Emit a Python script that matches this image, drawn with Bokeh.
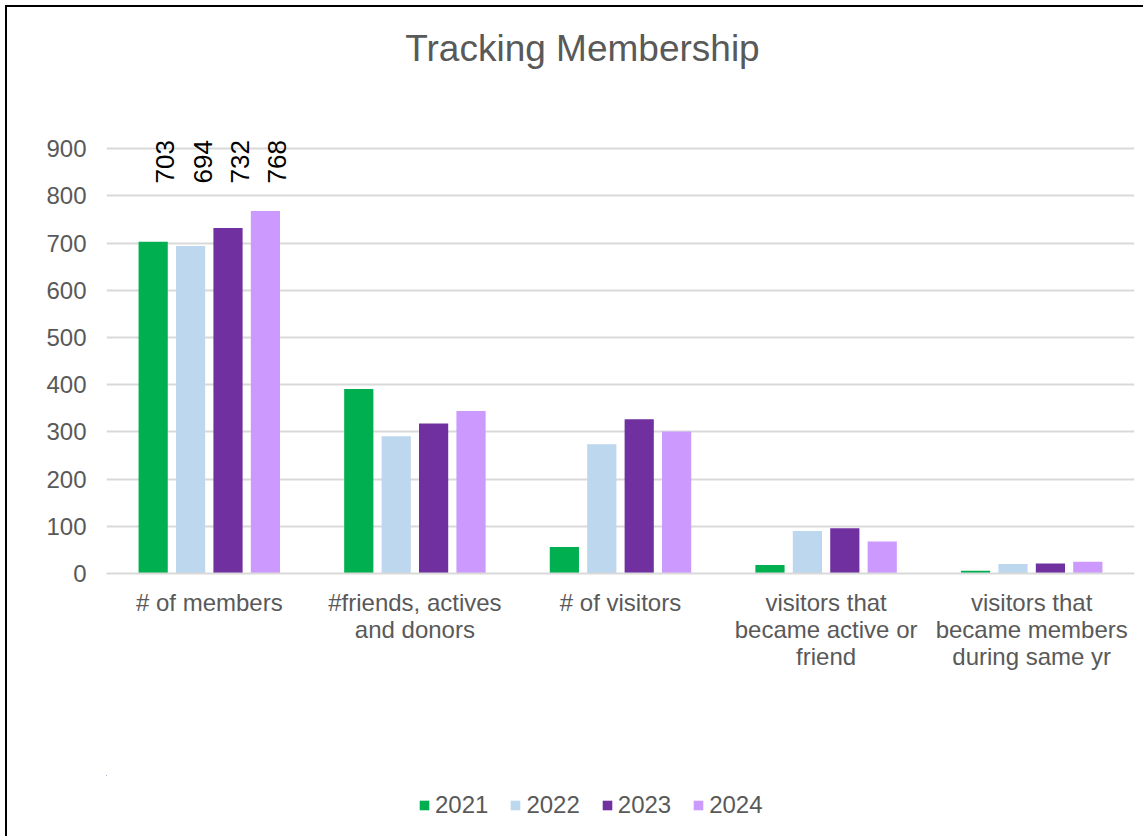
import math
from bokeh.plotting import figure
from bokeh.layouts import column
from bokeh.models import (ColumnDataSource, Range1d, Legend, LegendItem,
                          LabelSet, Label, FixedTicker, LinearAxis)
from bokeh.transform import dodge
from bokeh.core.properties import value
from bokeh.embed import file_html
from bokeh.resources import INLINE

categories = ["# of members", "#friends, actives and donors", "# of visitors",
              "visitors that became active or friend",
              "visitors that became members during same yr"]
label_line1 = ["# of members", "#friends, actives", "# of visitors",
               "visitors that", "visitors that"]
label_line2 = ["", "and donors", "", "became active or", "became members"]
label_line3 = ["", "", "", "friend", "during same yr"]
years = ["2021", "2022", "2023", "2024"]
v2021 = [703, 391, 56, 18, 6]
v2022 = [694, 291, 274, 90, 20]
v2023 = [732, 318, 327, 96, 21]
v2024 = [768, 344, 301, 68, 25]
colors = ["#00B050", "#BDD7EE", "#7030A0", "#CC99FF"]
y_ticks = [0, 100, 200, 300, 400, 500, 600, 700, 800, 900]

FONT = "Liberation Sans"
GREY = "#595959"

# category slot centres on a numeric x scale (one unit per category)
centers = [i + 0.5 for i in range(len(categories))]

src = ColumnDataSource(dict(cat=categories, xc=centers, y2021=v2021, y2022=v2022,
                            y2023=v2023, y2024=v2024))
first = ColumnDataSource(dict(cat=categories[:1], xc=centers[:1],
                              t2021=[str(v2021[0])], t2022=[str(v2022[0])],
                              t2023=[str(v2023[0])], t2024=[str(v2024[0])]))

# the plot frame reaches the top of the chart so that the title and the rotated
# value labels sit inside it; ticks/grid stop at 900
p = figure(width=1136, height=768, output_backend="svg", toolbar_location=None,
           x_range=Range1d(0, len(categories)), y_range=Range1d(0, 1199),
           min_border_left=99, min_border_right=9, min_border_top=0,
           min_border_bottom=202)
p.outline_line_color = None
p.background_fill_color = "white"
p.border_fill_color = "white"

title = Label(x=476, y=525, x_units="screen", y_units="screen",
              text="Tracking Membership", text_align="center",
              text_baseline="alphabetic", text_font=FONT,
              text_font_size="37px", text_color=GREY)
p.add_layout(title)

offsets = [-0.273, -0.091, 0.091, 0.273]
width = 0.142
renderers = []
for yr, off, col in zip(years, offsets, colors):
    r = p.vbar(x=dodge("xc", off), top="y" + yr, width=width,
               source=src, fill_color=col, line_color=None)
    renderers.append(r)
    lab = LabelSet(x=dodge("xc", off), y=390, y_units="screen",
                   text="t" + yr, source=first, angle=math.pi / 2,
                   text_align="left", text_baseline="middle", x_offset=12,
                   text_font=value(FONT), text_font_size=value("26px"),
                   text_color=value("black"))
    p.add_layout(lab)

# y axis
p.yaxis.ticker = FixedTicker(ticks=y_ticks)
p.yaxis.axis_line_color = None
p.yaxis.major_tick_line_color = None
p.yaxis.minor_tick_line_color = None
p.yaxis.major_tick_out = 0
p.yaxis.major_label_standoff = 20
p.yaxis.major_label_text_font = FONT
p.yaxis.major_label_text_font_size = "24px"
p.yaxis.major_label_text_color = GREY


def style_x_axis(ax, lines, standoff):
    ax.ticker = FixedTicker(ticks=centers)
    ax.axis_line_color = None
    ax.major_tick_line_color = None
    ax.minor_tick_line_color = None
    ax.major_tick_out = 0
    ax.major_tick_in = 0
    ax.major_label_standoff = standoff
    ax.major_label_text_font = FONT
    ax.major_label_text_font_size = "24px"
    ax.major_label_text_color = GREY
    ax.major_label_overrides = dict(zip(centers, lines))


# category labels: one axis per text line
xa1 = p.xaxis[0]
style_x_axis(xa1, label_line1, 15)
xa1.axis_line_color = "#D9D9D9"
xa1.axis_line_width = 2
xa2 = LinearAxis()
style_x_axis(xa2, label_line2, -3)
p.add_layout(xa2, "below")
xa3 = LinearAxis()
style_x_axis(xa3, label_line3, -3)
p.add_layout(xa3, "below")

p.xgrid.grid_line_color = None
p.ygrid.grid_line_color = "#D9D9D9"
p.ygrid.grid_line_width = 2

# legend strip underneath (its bars lie far outside its visible ranges; only the legend shows)
pl = figure(width=1136, height=61, output_backend="svg", toolbar_location=None,
            x_range=Range1d(100, 105), y_range=Range1d(-2000, -1999),
            x_axis_location=None, y_axis_location=None,
            min_border=0, min_border_left=0, min_border_right=0,
            min_border_top=0, min_border_bottom=0)
pl.outline_line_color = None
pl.grid.visible = False
pl.background_fill_color = "white"
pl.border_fill_color = "white"
legend_renderers = [pl.vbar(x=dodge("xc", off), top="y" + yr, width=width, source=src,
                            fill_color=c, line_color=None)
                    for yr, off, c in zip(years, offsets, colors)]
legend = Legend(items=[LegendItem(label=yr, renderers=[r])
                       for yr, r in zip(years, legend_renderers)],
                orientation="horizontal", location=(312, 17),
                glyph_width=12, glyph_height=12, label_standoff=5, spacing=21,
                padding=0, margin=0, border_line_color=None,
                background_fill_alpha=0,
                label_text_font=FONT, label_text_font_size="24px",
                label_text_color=GREY)
pl.add_layout(legend, "center")

layout = column(p, pl, spacing=0)
layout.styles = {"margin-left": "5px", "margin-top": "5px",
                 "border-top": "2px solid black", "border-left": "2px solid black"}

open("out.html", "w").write(file_html(layout, INLINE))
